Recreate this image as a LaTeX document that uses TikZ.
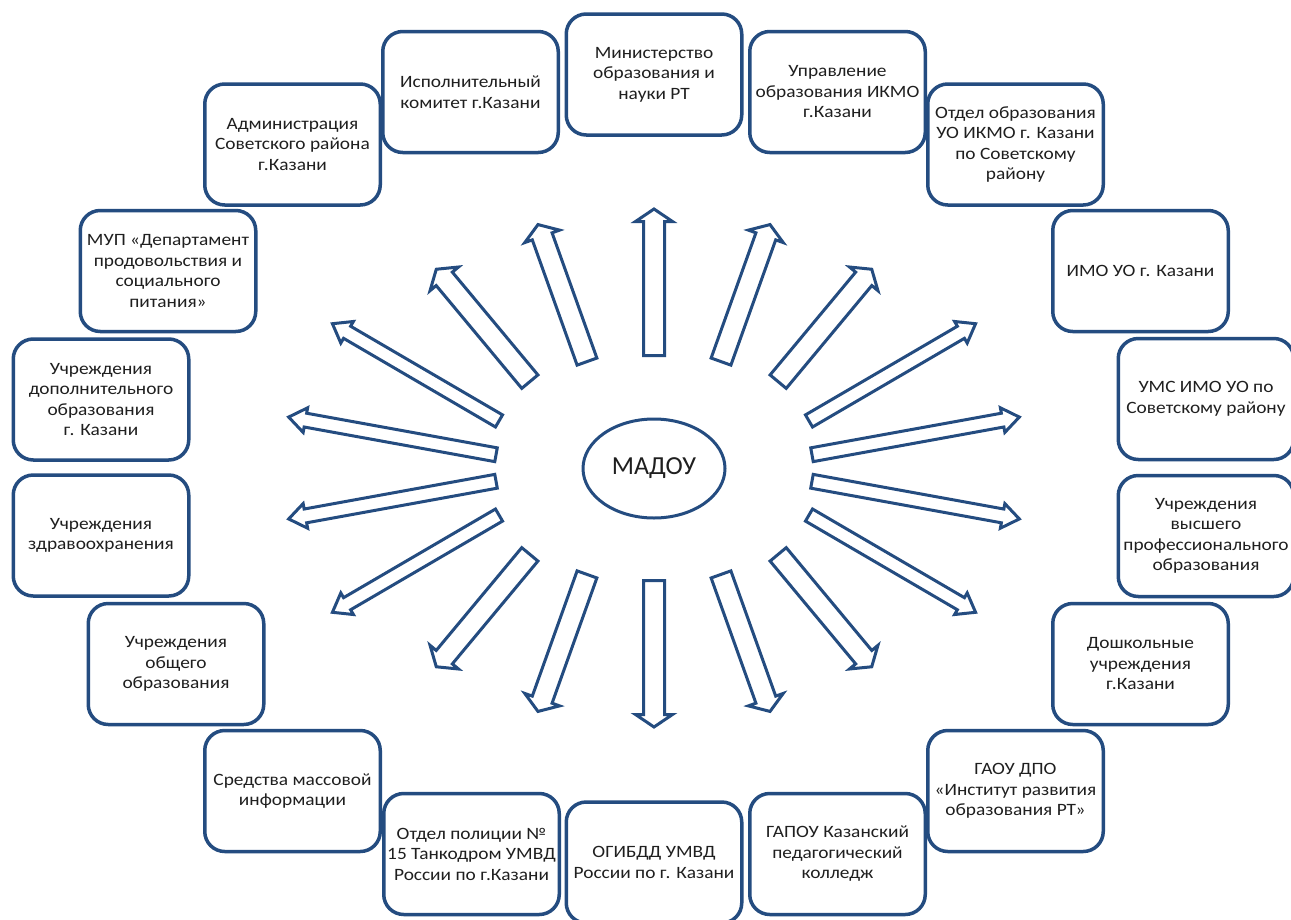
\documentclass[tikz,border=0pt]{standalone}
\usepackage{fontspec}
\setmainfont{Carlito}
\newfontfamily\boxfont[FakeStretch=1.12]{Carlito}
\usetikzlibrary{calc,shapes.geometric}
\definecolor{bblue}{RGB}{36,76,128}
\tikzset{
  x=1pt, y=-1pt,
  orgbox/.style={draw=bblue, line width=3.5pt, rounded corners=20pt,
    minimum width=175.5pt, minimum height=121pt, align=center,
    font=\boxfont\fontsize{17.3}{20.5}\selectfont, inner sep=2pt, fill=white, text=black!88},
  blockarr/.style={draw=bblue, line width=3pt, line join=miter, fill=white},
  hub/.style={ellipse, draw=bblue, line width=3pt, minimum width=142pt,
    minimum height=99pt, inner sep=1pt, font=\fontsize{26}{30}\selectfont, text=black!88}
}
\newcommand{\blkarrow}[5]{%
  \coordinate (ba) at ($(#1)!1.5pt!(#2)$);
  \coordinate (ta) at ($(#2)!2pt!(#1)$);
  \coordinate (ha) at ($(ta)!#5!(ba)$);
  \draw[blockarr] ($(ba)!#3!90:(ta)$) -- ($(ha)!#3!-90:(ba)$) -- ($(ha)!#4!-90:(ba)$)
    -- (ta) -- ($(ha)!#4!90:(ba)$) -- ($(ha)!#3!90:(ba)$) -- ($(ba)!#3!-90:(ta)$) -- cycle;
}
\begin{document}
\begin{tikzpicture}
\fill[white] (0,0) rectangle (1291,919);
\useasboundingbox (0,0) rectangle (1291,919);
\clip (0,0) rectangle (1291,919);

% boxes
\node[orgbox] (b1)  at (292.5,144.5) {Администрация\\Советского района\\г.Казани};
\node[orgbox] (b2)  at (470.5,92)    {Исполнительный\\комитет г.Казани};
\node[orgbox] (b3)  at (654,74.5)    {Министерство\\образования и\\науки РТ};
\node[orgbox] (b4)  at (837.5,92)    {Управление\\образования ИКМО\\г.Казани};
\node[orgbox] (b5)  at (1015.5,144.5){Отдел образования\\УО ИКМО г. Казани\\по Советскому\\району};
\node[orgbox] (b6)  at (1140.5,271)  {ИМО УО г. Казани};
\node[orgbox] (b7)  at (1206,399)    {УМС ИМО УО по\\Советскому району};
\node[orgbox] (b8)  at (1206,536)    {Учреждения\\высшего\\профессионального\\образования};
\node[orgbox] (b9)  at (1140.5,664)  {Дошкольные\\учреждения\\г.Казани};
\node[orgbox] (b10) at (1015.5,791)  {ГАОУ ДПО\\«Институт развития\\образования РТ»};
\node[orgbox] (b11) at (837.5,854)   {ГАПОУ Казанский\\педагогический\\колледж};
\node[orgbox] (b12) at (654,862.5)   {ОГИБДД УМВД\\России по г. Казани};
\node[orgbox] (b13) at (471.5,854)   {Отдел полиции №\\15 Танкодром УМВД\\России по г.Казани};
\node[orgbox] (b14) at (292.5,791)   {Средства массовой\\информации};
\node[orgbox] (b15) at (176,664)     {Учреждения\\общего\\образования};
\node[orgbox] (b16) at (101,535.5)   {Учреждения\\здравоохранения};
\node[orgbox] (b17) at (101,399.5)   {Учреждения\\дополнительного\\образования\\г. Казани};
\node[orgbox] (b18) at (168,271)     {МУП «Департамент\\продовольствия и\\социального\\питания»};

% centre
\node[hub] (hub) at (654,468.5) {МАДОУ};

% wide arrows
\foreach \n/\sx/\sy/\tx/\ty in {
  1/654/357/654/207, 2/587.5/363/537.3/222.7, 3/720.5/363/770.7/222.7,
  4/530.8/382.8/435/267.7, 5/777.2/382.8/873/267.7,
  14/530.8/553.2/435/668.3, 15/777.2/553.2/873/668.3,
  16/587.5/573/537.3/713.3, 17/720.5/573/770.7/713.3, 18/654/579/654/729}{
  \coordinate (s\n) at (\sx,\sy);
  \coordinate (t\n) at (\tx,\ty);
  \blkarrow{s\n}{t\n}{10.5pt}{18.5pt}{12.5pt}
}
% narrow arrows
\foreach \n/\sx/\sy/\tx/\ty in {
  6/500.3/421.7/330.7/322.7, 7/807.7/421.7/977.3/322.7,
  8/497.5/455/286.7/416.7, 9/810.5/455/1021.3/416.7,
  10/497.5/481/286.7/519.3, 11/810.5/481/1021.3/519.3,
  12/500.3/514.3/330.7/613.3, 13/807.7/514.3/977.3/613.3}{
  \coordinate (s\n) at (\sx,\sy);
  \coordinate (t\n) at (\tx,\ty);
  \blkarrow{s\n}{t\n}{7pt}{12.5pt}{17pt}
}
\end{tikzpicture}
\end{document}
